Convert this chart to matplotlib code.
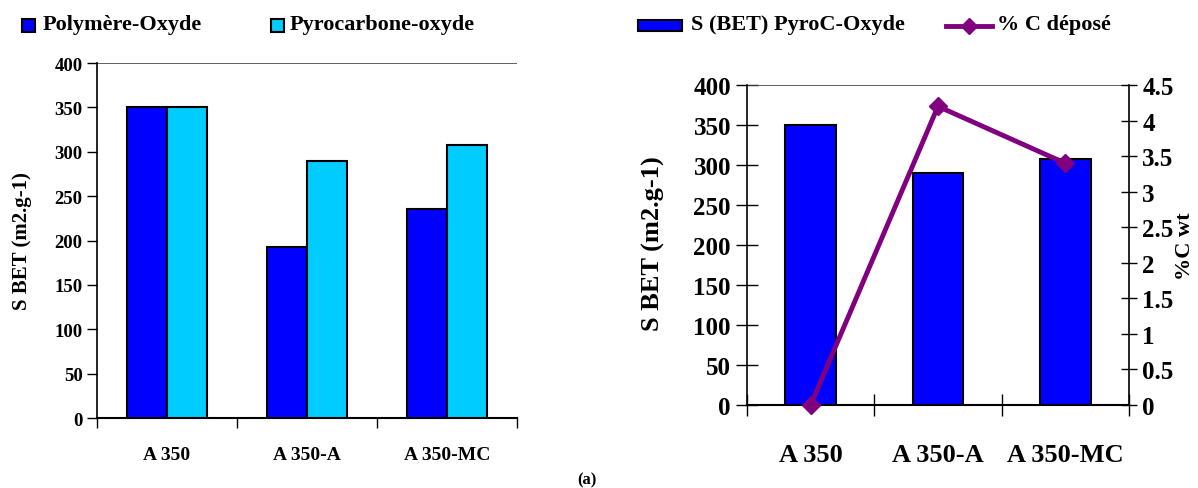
import numpy as np
import matplotlib.pyplot as plt

plt.rcParams["font.family"] = ["Liberation Serif", "DejaVu Serif"]
plt.rcParams["font.weight"] = "bold"

categories = ["A 350", "A 350-A", "A 350-MC"]
polymere_oxyde = [350, 193, 236]
pyrocarbone_oxyde = [350, 290, 308]
s_bet_pyroc = [350, 290, 308]
pct_c_depose = [0, 4.2, 3.4]

blue = "#0000FF"
cyan = "#00CCFF"
purple = "#800080"

fig = plt.figure(figsize=(11.98, 4.89), dpi=100)

### LEFT PANEL ###
ax1 = fig.add_axes([0.081, 0.1431, 0.3506, 0.7259])
x = np.arange(len(categories))
w = 0.286
ax1.bar(x - w / 2, polymere_oxyde, w, color=blue, edgecolor="black", linewidth=1.5, zorder=3)
ax1.bar(x + w / 2, pyrocarbone_oxyde, w, color=cyan, edgecolor="black", linewidth=1.5, zorder=3)
ax1.set_xlim(-0.5, 2.5)
ax1.set_ylim(0, 400)
ax1.set_yticks(np.arange(0, 401, 50))
ax1.axhline(400, color="#444444", linewidth=1.2)
for s in ["top", "right"]:
    ax1.spines[s].set_visible(False)
ax1.spines["left"].set_linewidth(1.2)
ax1.spines["bottom"].set_linewidth(1.5)
ax1.set_xticks(x)
ax1.set_xticklabels(categories, fontsize=14, fontweight="bold")
ax1.tick_params(axis="x", which="major", length=0, pad=20)
ax1.set_xticks(np.arange(-0.5, 2.6, 1), minor=True)
ax1.tick_params(axis="x", which="minor", length=7, direction="out", width=1)
ax1.tick_params(axis="y", labelsize=13.5, length=7, width=1, direction="out")
for lab in ax1.get_yticklabels():
    lab.set_fontweight("bold")
ax1.set_ylabel("S BET (m2.g-1)", fontsize=15, fontweight="bold")
ax1.yaxis.set_label_coords(-0.155, 0.5)

### RIGHT PANEL ###
ax2 = fig.add_axes([0.6235, 0.1697, 0.3189, 0.6544])
ax2.bar(x, s_bet_pyroc, 0.4, color=blue, edgecolor="black", linewidth=1.5, zorder=3)
ax2.set_xlim(-0.5, 2.5)
ax2.set_ylim(0, 400)
ax2.set_yticks(np.arange(0, 401, 50))
ax2.axhline(400, color="#444444", linewidth=1.2)
ax2.spines["top"].set_visible(False)
ax2.spines["right"].set_visible(False)
ax2.spines["left"].set_linewidth(1.2)
ax2.spines["bottom"].set_linewidth(1.5)
ax2.set_xticks(x)
ax2.set_xticklabels(categories, fontsize=19, fontweight="bold")
ax2.tick_params(axis="x", which="major", length=0, pad=27)
ax2.set_xticks(np.arange(-0.5, 2.6, 1), minor=True)
ax2.tick_params(axis="x", which="minor", length=16, direction="inout", width=1)
ax2.tick_params(axis="y", labelsize=18, length=16, width=1, direction="inout")
for lab in ax2.get_yticklabels():
    lab.set_fontweight("bold")
ax2.set_ylabel("S BET (m2.g-1)", fontsize=19, fontweight="bold")
ax2.yaxis.set_label_coords(-0.215, 0.506)

ax3 = ax2.twinx()
ax3.plot(x, pct_c_depose, color=purple, linewidth=3.5, marker="D", markersize=9, zorder=5, clip_on=False)
ax3.set_ylim(0, 4.5)
ax3.set_yticks(np.arange(0, 4.51, 0.5))
ax3.set_yticklabels(["0", "0.5", "1", "1.5", "2", "2.5", "3", "3.5", "4", "4.5"])
for s in ["top", "left", "bottom"]:
    ax3.spines[s].set_visible(False)
ax3.spines["right"].set_linewidth(1.2)
ax3.tick_params(axis="y", labelsize=18, length=12, width=1, direction="inout")
ax3.set_ylabel("%C wt", fontsize=16, fontweight="bold")
ax3.yaxis.set_label_coords(1.12, 0.5)

### LEGENDS ###
fig.patches.append(plt.Rectangle((22 / 1198, 1 - 33 / 489), 13 / 1198, 13 / 489,
                                 transform=fig.transFigure, facecolor=blue, edgecolor="black", linewidth=1.5))
fig.text(43 / 1198, 1 - 25 / 489, "Polymère-Oxyde", fontsize=16, fontweight="bold", va="center")
fig.patches.append(plt.Rectangle((271 / 1198, 1 - 33 / 489), 13 / 1198, 13 / 489,
                                 transform=fig.transFigure, facecolor=cyan, edgecolor="black", linewidth=1.5))
fig.text(290 / 1198, 1 - 25 / 489, "Pyrocarbone-oxyde", fontsize=16, fontweight="bold", va="center")
fig.patches.append(plt.Rectangle((638 / 1198, 1 - 32 / 489), 44 / 1198, 11 / 489,
                                 transform=fig.transFigure, facecolor=blue, edgecolor="black", linewidth=1.5))
fig.text(691 / 1198, 1 - 25 / 489, "S (BET) PyroC-Oxyde", fontsize=16, fontweight="bold", va="center")
fig.lines.append(plt.Line2D([946 / 1198, 969 / 1198, 992 / 1198], [1 - 27 / 489] * 3,
                            transform=fig.transFigure, color=purple, linewidth=3.5,
                            marker="D", markersize=8, markevery=[1]))
fig.text(997 / 1198, 1 - 25 / 489, "% C déposé", fontsize=16, fontweight="bold", va="center")

fig.text(587 / 1198, 1 - 480 / 489, "(a)", fontsize=12, fontweight="bold", ha="center", va="center")

fig.savefig("out.png", dpi=100)
